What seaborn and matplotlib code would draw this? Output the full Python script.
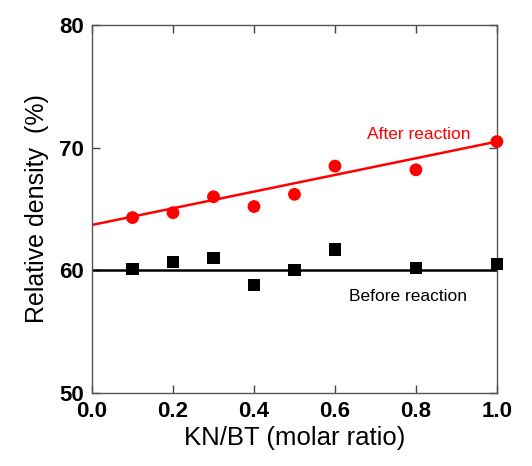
import numpy as np
import pandas as pd
import matplotlib
matplotlib.use("Agg")
import matplotlib.pyplot as plt
import seaborn as sns

# Data
ratio = [0.1, 0.2, 0.3, 0.4, 0.5, 0.6, 0.8, 1.0]
after_density = [64.3, 64.7, 66.0, 65.2, 66.2, 68.5, 68.2, 70.5]
before_density = [60.1, 60.7, 61.0, 58.8, 60.0, 61.7, 60.2, 60.5]

# Fitted lines as drawn on the chart
after_fit_intercept = 63.7
after_fit_slope = 6.8
before_level = 60.0
line_x = [0.0, 1.0]

xticks = [0.0, 0.2, 0.4, 0.6, 0.8, 1.0]
yticks = [50, 60, 70, 80]

sns.set_theme(style="ticks")
plt.rcParams['font.family'] = ['Liberation Sans', 'DejaVu Sans']
plt.rcParams['text.color'] = 'black'
plt.rcParams['axes.labelcolor'] = 'black'
plt.rcParams['xtick.color'] = 'black'
plt.rcParams['ytick.color'] = 'black'

df = pd.DataFrame({'ratio': ratio, 'after': after_density, 'before': before_density})
fit = pd.DataFrame({
    'x': line_x,
    'after': [after_fit_intercept + after_fit_slope * v for v in line_x],
    'before': [before_level for v in line_x],
})

fig = plt.figure(figsize=(5.32, 4.66), dpi=100)
ax = fig.add_axes([0.173, 0.157, 0.761, 0.789])

# Fit lines
sns.lineplot(data=fit, x='x', y='after', color='#ff0000', linewidth=1.8, ax=ax)
sns.lineplot(data=fit, x='x', y='before', color='black', linewidth=1.8, ax=ax)

# Measured points
sns.scatterplot(data=df, x='ratio', y='after', color='#ff0000', marker='o',
                s=85, edgecolor='none', ax=ax, zorder=3, clip_on=False)
sns.scatterplot(data=df, x='ratio', y='before', color='black', marker='s',
                s=78, edgecolor='none', ax=ax, zorder=3, clip_on=False)

ax.text(0.68, 71.1, 'After reaction', color='#ff0000', fontsize=12.5,
        va='center', ha='left')
ax.text(0.635, 57.9, 'Before reaction', color='black', fontsize=12.5,
        va='center', ha='left')

ax.set_xlim(0, 1.0)
ax.set_ylim(50, 80)
ax.set_xticks(xticks)
ax.set_yticks(yticks)
ax.set_xticklabels([f'{v:.1f}' for v in xticks], fontsize=16, fontweight='bold')
ax.set_yticklabels([str(v) for v in yticks], fontsize=16, fontweight='bold')
ax.tick_params(direction='in', length=6, width=1, top=True, right=True,
               color='#444444', pad=6)

for s in ax.spines.values():
    s.set_color('#555555')
    s.set_linewidth(1.0)

ax.set_xlabel('KN/BT (molar ratio)', fontsize=18.5, labelpad=3)
ax.set_ylabel('Relative density  (%)', fontsize=18, labelpad=7)

fig.savefig('out.png', dpi=100)
